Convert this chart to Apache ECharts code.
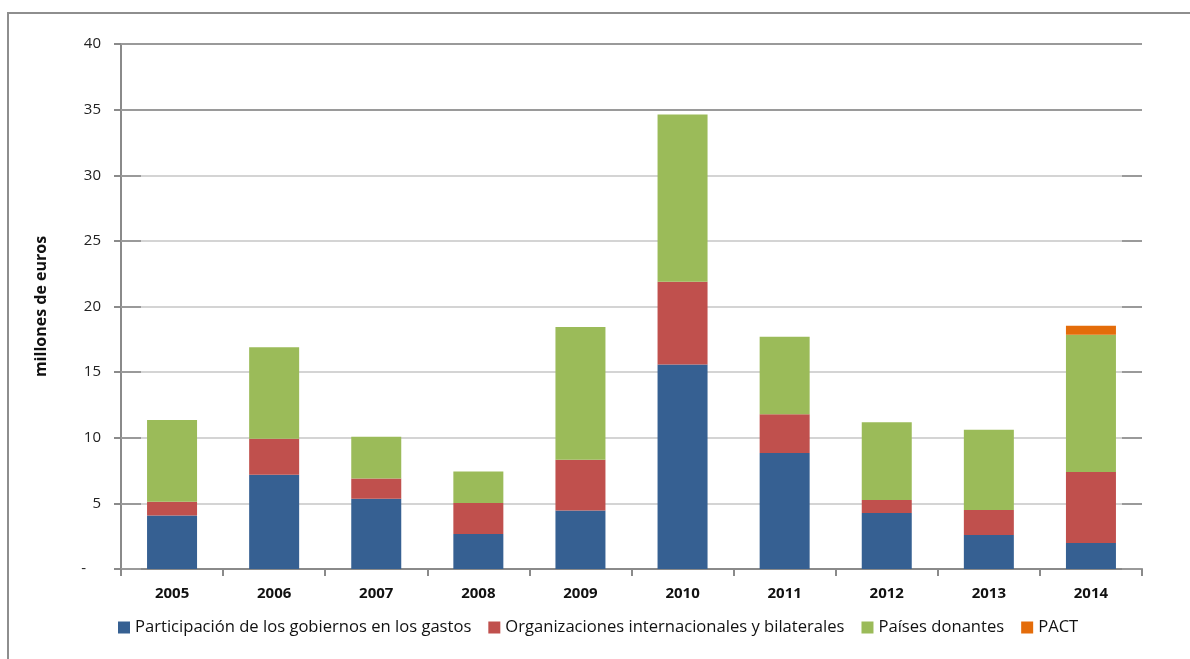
<!DOCTYPE html>
<html>
<head>
<meta charset="utf-8">
<script src="https://cdn.jsdelivr.net/npm/echarts@6/dist/echarts.min.js"></script>
<style>
html,body{margin:0;padding:0;background:#fff;}
#chart{width:1190px;height:659px;}
</style>
</head>
<body>
<div id="chart"></div>
<script>
const years = ['2005','2006','2007','2008','2009','2010','2011','2012','2013','2014'];
const gobiernos = [4.08, 7.18, 5.35, 2.66, 4.46, 15.58, 8.83, 4.26, 2.59, 1.98];
const organizaciones = [1.04, 2.74, 1.55, 2.37, 3.86, 6.30, 2.97, 0.99, 1.90, 5.41];
const donantes = [6.23, 6.98, 3.17, 2.40, 10.11, 12.74, 5.89, 5.94, 6.12, 10.45];
const pact = [null, null, null, null, null, null, null, null, null, 0.69];
const seriesNames = ['Participación de los gobiernos en los gastos', 'Organizaciones internacionales y bilaterales', 'Países donantes', 'PACT'];
const yTickLabels = {0:'-',5:'5',10:'10',15:'15',20:'20',25:'25',30:'30',35:'35',40:'40'};
const yName = 'millones de euros';

const FONT = '"Open Sans", Lato, sans-serif';
const colors = ['#366092', '#C0504D', '#9BBB59', '#E46C0A'];

const chart = echarts.init(document.getElementById('chart'), null, {renderer:'canvas'});
const gridDef = {left:121, right:48, top:44, bottom:90};
const lightGrid = '#d4d4d4', darkGrid = '#9a9a9a';

const option = {
  animation:false,
  backgroundColor:'#ffffff',
  color: colors,
  textStyle:{fontFamily:FONT},
  graphic:[{
    type:'rect', silent:true, z:100,
    shape:{x:8, y:13, width:1300, height:800},
    style:{fill:'none', stroke:'#8e8e8e', lineWidth:2}
  }],
  legend:{
    left:113, top:614, itemWidth:12, itemHeight:12, itemGap:17,
    icon:'rect',
    textStyle:{fontSize:16.6, color:'#111', fontFamily:FONT},
    data: seriesNames
  },
  grid: gridDef,
  xAxis:{
    type:'category', data: years,
    axisLine:{lineStyle:{color:'#8a8a8a', width:2}},
    axisTick:{show:true, length:7, lineStyle:{color:'#8a8a8a', width:2}},
    axisLabel:{fontSize:15, fontWeight:'bold', color:'#111', margin:17, fontFamily:FONT}
  },
  yAxis:[{
    type:'value', min:0, max:40, interval:5,
    name: yName, nameLocation:'middle', nameGap:72, nameRotate:90,
    nameTextStyle:{fontSize:16, fontWeight:'bold', color:'#111', fontFamily:FONT},
    axisLine:{show:true, lineStyle:{color:'#8a8a8a', width:2}},
    axisTick:{show:true, length:7, lineStyle:{color:'#8a8a8a', width:2}},
    axisLabel:{fontSize:15, color:'#222', margin:20, fontFamily:FONT,
      formatter: v => (v === 0 ? yTickLabels[v] + '\u2002\u2002' : (yTickLabels[v] !== undefined ? yTickLabels[v] : String(v)))},
    splitLine:{show:true, lineStyle:{width:2, color:[lightGrid,lightGrid,lightGrid,lightGrid,lightGrid,lightGrid,lightGrid,darkGrid,darkGrid]}}
  },{
    type:'value', min:0, max:40, interval:5, position:'left',
    axisLine:{show:false}, axisLabel:{show:false}, splitLine:{show:false},
    axisTick:{show:true, inside:true, length:20, lineStyle:{color:darkGrid, width:2}}
  },{
    type:'value', min:0, max:40, interval:5, position:'right',
    axisLine:{show:false}, axisLabel:{show:false}, splitLine:{show:false},
    axisTick:{show:true, inside:true, length:20, lineStyle:{color:darkGrid, width:2}}
  }],
  series:[
    {name:seriesNames[0], type:'bar', stack:'t', barWidth:50, data:gobiernos, z:2},
    {name:seriesNames[1], type:'bar', stack:'t', barWidth:50, data:organizaciones, z:2},
    {name:seriesNames[2], type:'bar', stack:'t', barWidth:50, data:donantes, z:2},
    {name:seriesNames[3], type:'bar', stack:'t', barWidth:50, data:pact, z:2}
  ]
};
chart.setOption(option);
</script>
</body>
</html>
